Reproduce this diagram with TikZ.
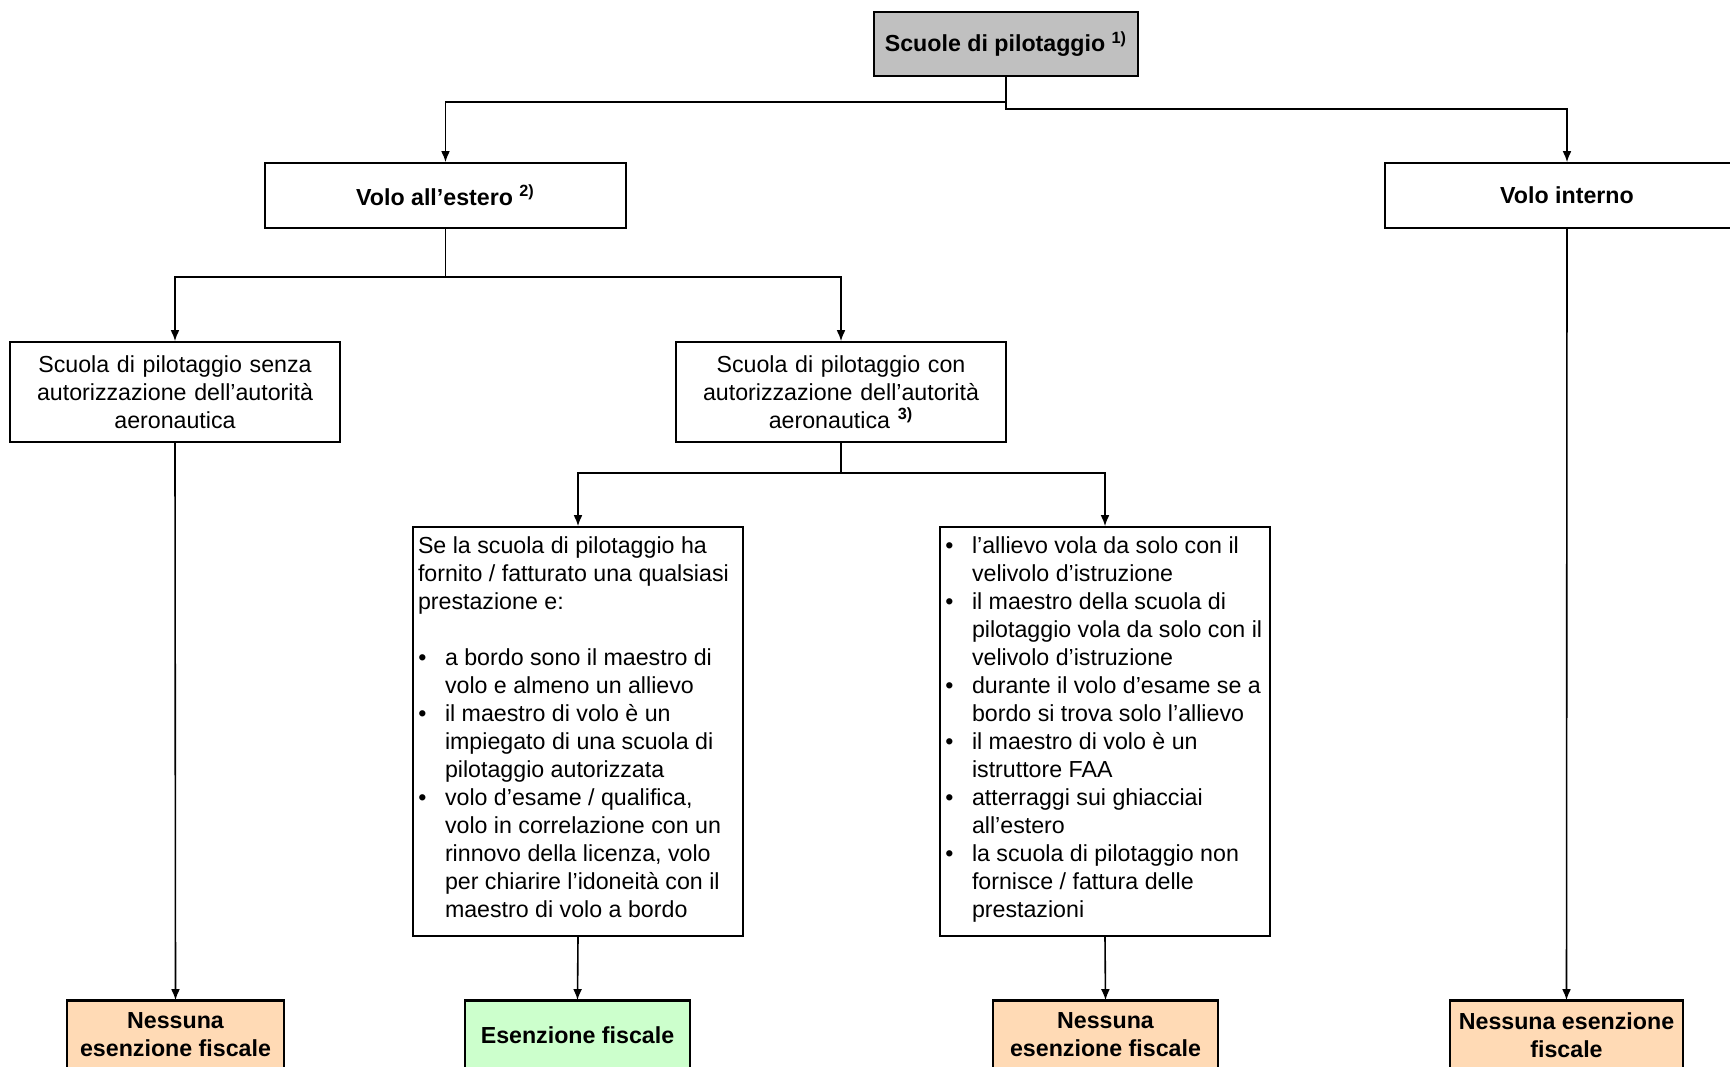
\documentclass[tikz,border=0pt]{standalone}
\usepackage{fontspec}
\setmainfont{Liberation Sans}
\usepackage{enumitem}
\usetikzlibrary{arrows.meta}

\definecolor{topgray}{RGB}{192,192,192}
\definecolor{noexempt}{RGB}{255,218,181}
\definecolor{exempt}{RGB}{204,255,204}

\setlist[itemize]{label=\textbullet, leftmargin=13.5pt, labelwidth=13.3pt, labelsep=0pt, align=left, topsep=0pt, partopsep=0pt, itemsep=0pt, parsep=0pt}

\tikzset{
  box/.style={draw, line width=0.8pt, inner sep=0pt, align=center, font=\fontsize{11.6}{14}\selectfont},
  headbox/.style={box, font=\fontsize{11.6}{14}\selectfont\bfseries},
  listbox/.style={draw, line width=0.8pt, inner xsep=2.5pt, inner ysep=2pt, font=\fontsize{11.6}{14}\selectfont},
  conn/.style={line width=0.8pt, -{Latex[length=5.5pt,width=4.4pt]}}
}

\begin{document}
\begin{tikzpicture}[x=0.5pt,y=-0.5pt]
\useasboundingbox (0,0) rectangle (1730,1066);
% top level
\node[headbox, fill=topgray, line width=1.2pt, minimum width=132pt, minimum height=32pt] (schools) at (1006,44) {Scuole di pilotaggio \textsuperscript{1)}};
\node[headbox, minimum width=180.5pt, minimum height=32.5pt] (abroad) at (445.5,195.5) {Volo all’estero \textsuperscript{2)}};
\node[headbox, minimum width=182pt, minimum height=32.5pt] (domestic) at (1567,195.5) {Volo interno};
% schools
\node[box, text width=160pt, minimum width=165pt, minimum height=50pt] (noauth) at (175,392) {Scuola di pilotaggio senza\\ autorizzazione dell’autorità\\ aeronautica};
\node[box, text width=160pt, minimum width=165pt, minimum height=50pt] (auth) at (841,392) {Scuola di pilotaggio con\\ autorizzazione dell’autorità\\ aeronautica \textsuperscript{\bfseries 3)}};
% conditions
\node[listbox] (withinstr) at (578,731.5) {\begin{minipage}[c][200.5pt][t]{160pt}\raggedright\vspace*{2.8pt}
Se la scuola di pilotaggio ha\\ fornito / fatturato una qualsiasi\\ prestazione e:\par\vspace{14pt}
\begin{itemize}
\item a bordo sono il maestro di\\ volo e almeno un allievo
\item il maestro di volo è un\\ impiegato di una scuola di\\ pilotaggio autorizzata
\item volo d’esame / qualifica,\\ volo in correlazione con un\\ rinnovo della licenza, volo\\ per chiarire l’idoneità con il\\ maestro di volo a bordo
\end{itemize}
\end{minipage}};
\node[listbox] (solo) at (1105,731.5) {\begin{minipage}[c][200.5pt][t]{160pt}\raggedright\vspace*{2.8pt}
\begin{itemize}
\item l’allievo vola da solo con il\\ velivolo d’istruzione
\item il maestro della scuola di\\ pilotaggio vola da solo con il\\ velivolo d’istruzione
\item durante il volo d’esame se a\\ bordo si trova solo l’allievo
\item il maestro di volo è un\\ istruttore FAA
\item atterraggi sui ghiacciai\\ all’estero
\item la scuola di pilotaggio non\\ fornisce / fattura delle\\ prestazioni
\end{itemize}
\end{minipage}};
% results
\node[headbox, fill=noexempt, minimum width=108.5pt, minimum height=34pt] (resA) at (175.5,1035) {Nessuna\\ esenzione fiscale};
\node[headbox, fill=exempt, minimum width=112.5pt, minimum height=34pt] (resB) at (577.5,1035) {Esenzione fiscale};
\node[headbox, fill=noexempt, minimum width=112.5pt, minimum height=34pt] (resC) at (1105.5,1035) {Nessuna\\ esenzione fiscale};
\node[headbox, fill=noexempt, minimum width=116.5pt, minimum height=34pt] (resD) at (1566.5,1035) {Nessuna esenzione\\ fiscale};
\draw[line width=1.5pt] (resA.north west) -- (resA.north east);
\draw[line width=1.5pt] (resB.north west) -- (resB.north east);
\draw[line width=1.5pt] (resC.north west) -- (resC.north east);
\draw[line width=1.5pt] (resD.north west) -- (resD.north east);
% connectors
\draw[conn] (schools.south) -- ++(0,25) -| (abroad.north);
\draw[conn] (schools.south) -- ++(0,32) -| (domestic.north);
\draw[conn] (abroad.south) -- ++(0,48) -| (noauth.north);
\draw[conn] (abroad.south) -- ++(0,48) -| (auth.north);
\draw[conn] (auth.south) -- ++(0,30) -| (withinstr.north);
\draw[conn] (auth.south) -- ++(0,30) -| (solo.north);
\draw[conn] (noauth.south) -- (resA.north);
\draw[conn] (withinstr.south) -- (resB.north);
\draw[conn] (solo.south) -- (resC.north);
\draw[conn] (domestic.south) -- (resD.north);
\end{tikzpicture}
\end{document}
